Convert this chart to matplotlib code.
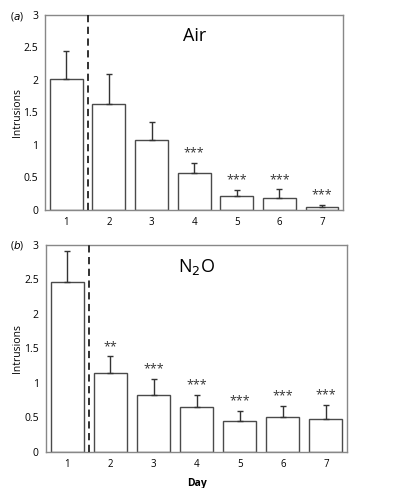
import matplotlib
matplotlib.use("Agg")
import matplotlib.pyplot as plt
import numpy as np

days = ["1", "2", "3", "4", "5", "6", "7"]
air_mean = [2.02, 1.63, 1.07, 0.57, 0.21, 0.19, 0.04]
air_err = [0.42, 0.46, 0.28, 0.155, 0.105, 0.13, 0.04]
air_sig = ["", "", "", "***", "***", "***", "***"]
n2o_mean = [2.46, 1.14, 0.82, 0.65, 0.44, 0.50, 0.48]
n2o_err = [0.45, 0.24, 0.23, 0.17, 0.15, 0.16, 0.20]
n2o_sig = ["", "**", "***", "***", "***", "***", "***"]
yticks = [0, 0.5, 1, 1.5, 2, 2.5, 3]
ytick_labels = ["0", "0.5", "1", "1.5", "2", "2.5", "3"]

plt.rcParams['font.family'] = ['Open Sans', 'DejaVu Sans']

fig = plt.figure(figsize=(3.98, 4.88), dpi=100)
ax1 = fig.add_axes([0.113, 0.5697, 0.7496, 0.3996])
ax2 = fig.add_axes([0.115, 0.0744, 0.758, 0.4242])

def panel(ax, mean, err, sig, title, star_off):
    x = np.arange(len(days))
    ax.bar(x, mean, width=0.77, color="white", edgecolor="#4a4a4a", linewidth=1.0, zorder=2)
    ax.errorbar(x, mean, yerr=[np.zeros(len(err)), err], fmt="none", ecolor="#333333",
                elinewidth=1.0, capsize=2.5, capthick=1.0, zorder=3)
    for xi, m, e, s in zip(x, mean, err, sig):
        if s:
            ax.text(xi, m + e + star_off, s, ha="center", va="bottom", fontsize=9,
                    color="#333333")
    ax.axvline(0.5, color="#222222", linestyle=(0, (4, 2.5)), linewidth=1.3, zorder=4)
    ax.set_xlim(-0.5, 6.5)
    ax.set_ylim(0, 3)
    ax.set_xticks(x)
    ax.set_xticklabels(days, fontsize=7)
    ax.set_yticks(yticks)
    ax.set_yticklabels(ytick_labels, fontsize=7.5)
    ax.tick_params(length=0, pad=5)
    for sp in ax.spines.values():
        sp.set_color("#888888")
        sp.set_linewidth(1.0)
    ax.set_ylabel("Intrusions", fontsize=7.5)
    ax.yaxis.set_label_coords(-0.075, 0.5)
    ax.text(3.0, 2.68, title, ha="center", va="center", fontsize=13)

panel(ax1, air_mean, air_err, air_sig, "Air", 0.05)
panel(ax2, n2o_mean, n2o_err, n2o_sig, "N$_2$O", 0.05)
ax2.set_xlabel("Day", fontsize=7.5, fontweight="bold", labelpad=6)

fig.text(10 / 398, 1 - 16.5 / 488, "($a$)", ha="left", va="center", fontsize=7.5)
fig.text(10 / 398, 1 - 245 / 488, "($b$)", ha="left", va="center", fontsize=7.5)

fig.savefig("out.png", dpi=100)
